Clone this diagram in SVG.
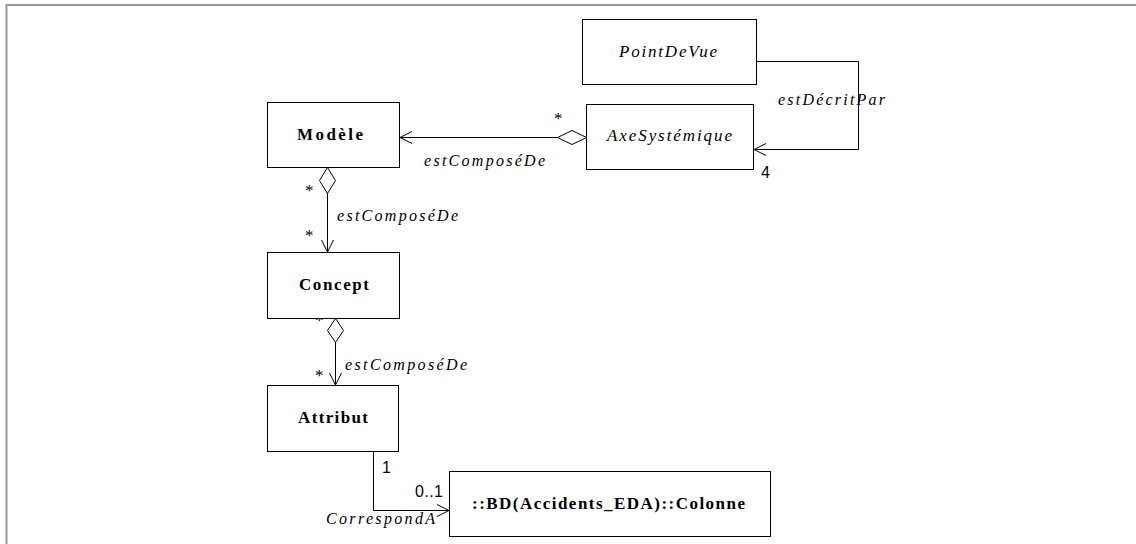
<svg xmlns="http://www.w3.org/2000/svg" width="1136" height="544" viewBox="0 0 1136 544">
<style>
.box{fill:#fff;stroke:#000;stroke-width:1}
.cn{font-family:"Liberation Serif",serif;font-weight:bold;font-size:17px;fill:#000}
.ci{font-family:"Liberation Serif",serif;font-style:italic;font-size:17px;fill:#000}
.role{font-family:"Liberation Serif",serif;font-style:italic;font-size:16px;fill:#000}
.mult{font-family:"Liberation Serif",serif;font-size:17px;fill:#000}
.num{font-family:"Liberation Sans",sans-serif;font-size:16px;fill:#000}
.ln{fill:none;stroke:#000;stroke-width:1}
.dia{fill:#fff;stroke:#000;stroke-width:1}
</style>
<defs>
<marker id="open" viewBox="0 0 14 14" refX="13" refY="7" markerWidth="14" markerHeight="14" markerUnits="userSpaceOnUse" orient="auto">
<path d="M1,1 L13,7 L1,13" fill="none" stroke="#000" stroke-width="1"/>
</marker>
</defs>
<rect width="1136" height="544" fill="#fff"/>
<g id="frame">
<line x1="6" y1="5" x2="1136" y2="5" stroke="#999" stroke-width="2"/>
<line x1="6.5" y1="4" x2="6.5" y2="544" stroke="#999" stroke-width="2"/>
</g>
<g id="connectors">
<line class="ln" x1="557" y1="137.5" x2="400" y2="137.5" marker-end="url(#open)"/>
<path class="dia" d="M586.5,137.5 L572,130.5 L557.5,137.5 L572,144.5 Z"/>
<text class="mult" x="392" y="124">*</text>
<text class="mult" x="554" y="124">*</text>
<text class="role" x="424" y="166" textLength="121" lengthAdjust="spacing">estComposéDe</text>
<line class="ln" x1="327.5" y1="193" x2="327.5" y2="252" marker-end="url(#open)"/>
<path class="dia" d="M327.5,167.5 L335.5,180.5 L327.5,193.5 L319.5,180.5 Z"/>
<text class="mult" x="305" y="196">*</text>
<text class="mult" x="305" y="241">*</text>
<text class="role" x="337" y="221" textLength="121" lengthAdjust="spacing">estComposéDe</text>
<line class="ln" x1="335.5" y1="342" x2="335.5" y2="385" marker-end="url(#open)"/>
<path class="dia" d="M335.5,318.5 L343.5,330.5 L335.5,342.5 L327.5,330.5 Z"/>
<text class="mult" x="315" y="326">*</text>
<text class="mult" x="315" y="381">*</text>
<text class="role" x="345" y="370" textLength="122" lengthAdjust="spacing">estComposéDe</text>
<path class="ln" d="M756.5,61.5 H858.5 V149.5 H754" marker-end="url(#open)"/>
<text class="role" x="778" y="105" textLength="107" lengthAdjust="spacing">estDécritPar</text>
<text class="num" x="761" y="178" font-size="17">4</text>
<path class="ln" d="M373.5,451.5 V510.5 H449" marker-end="url(#open)"/>
<text class="num" x="382" y="473">1</text>
<text class="num" x="415" y="497" textLength="28" lengthAdjust="spacing">0..1</text>
<text class="role" x="326" y="524" textLength="109" lengthAdjust="spacing">CorrespondA</text>
</g>
<g id="PointDeVue">
<rect class="box" x="582.5" y="19.5" width="174" height="65"/>
<text class="ci" x="619" y="57" textLength="98" lengthAdjust="spacing">PointDeVue</text>
</g>
<g id="AxeSystemique">
<rect class="box" x="586.5" y="104.5" width="167" height="65"/>
<text class="ci" x="607" y="141" textLength="125" lengthAdjust="spacing">AxeSystémique</text>
</g>
<g id="Modele">
<rect class="box" x="267.5" y="102.5" width="132" height="65"/>
<text class="cn" x="297" y="140" textLength="66" lengthAdjust="spacing">Modèle</text>
</g>
<g id="Concept">
<rect class="box" x="267.5" y="252.5" width="132" height="66"/>
<text class="cn" x="299" y="290" textLength="70" lengthAdjust="spacing">Concept</text>
</g>
<g id="Attribut">
<rect class="box" x="267.5" y="385.5" width="131" height="66"/>
<text class="cn" x="298" y="423" textLength="70" lengthAdjust="spacing">Attribut</text>
</g>
<g id="Colonne">
<rect class="box" x="449.5" y="471.5" width="321" height="65"/>
<text class="cn" x="472" y="509" textLength="273" lengthAdjust="spacing">::BD(Accidents_EDA)::Colonne</text>
</g>
</svg>
